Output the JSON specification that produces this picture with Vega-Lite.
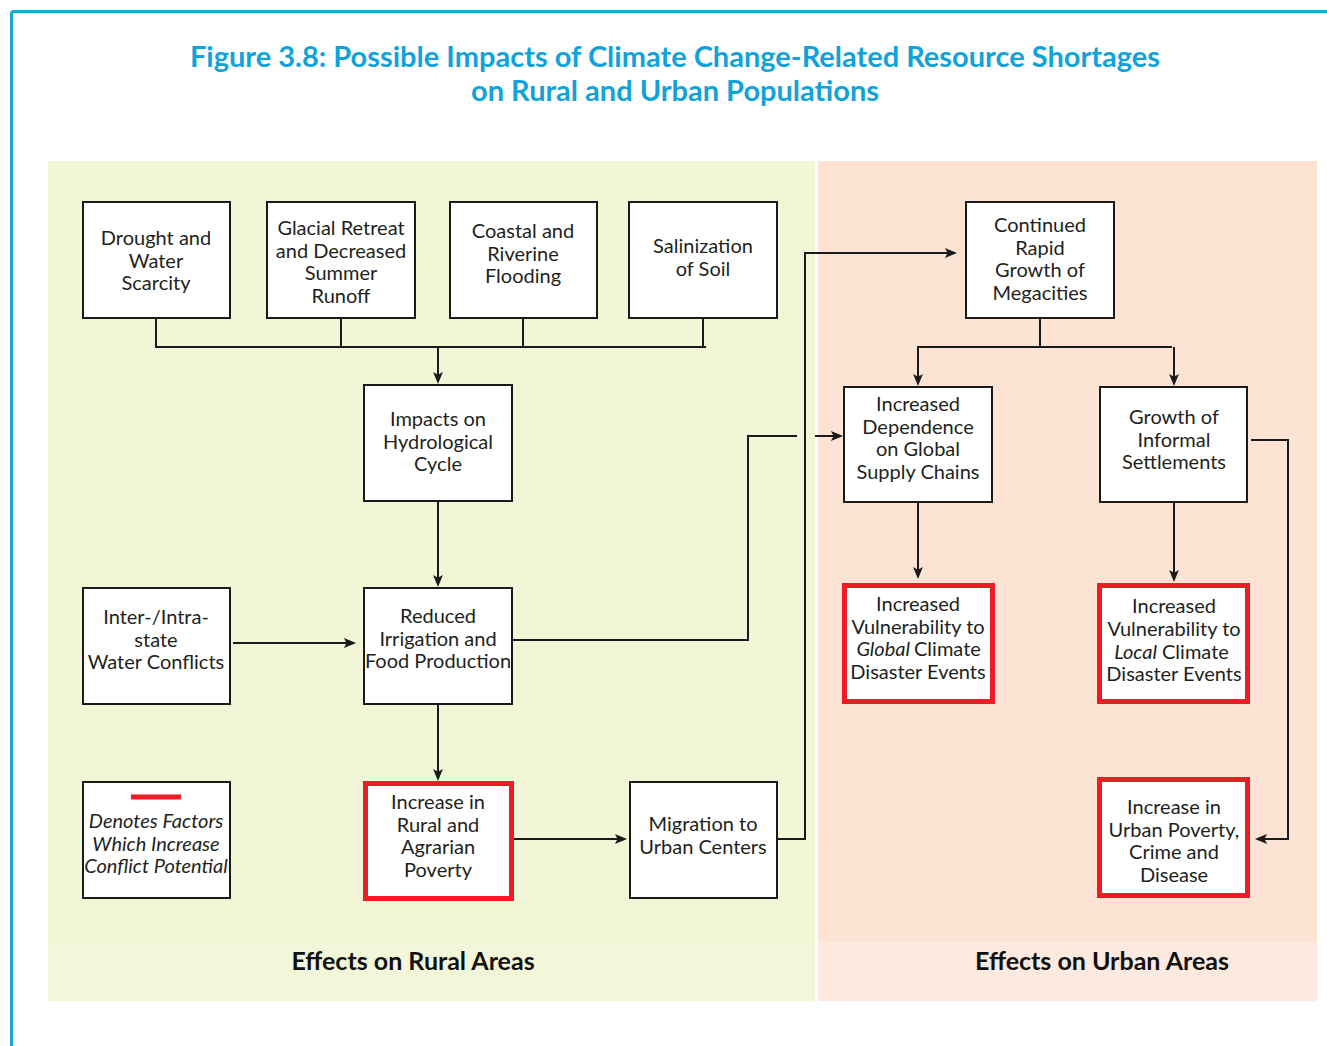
{
  "$schema": "https://vega.github.io/schema/vega-lite/v6.json",
  "width": 1327,
  "height": 1046,
  "padding": 0,
  "autosize": {"type": "none"},
  "background": "white",
  "config": {"view": {"stroke": null}, "text": {"font": "Lato", "color": "#231f20"}},
  "datasets": {
    "panels": [
      {"region": "rural", "x": 48, "x2": 815, "y": 161, "y2": 942},
      {"region": "ruralband", "x": 48, "x2": 815, "y": 942, "y2": 1001},
      {"region": "urban", "x": 818, "x2": 1317, "y": 161, "y2": 942},
      {"region": "urbanband", "x": 818, "x2": 1317, "y": 942, "y2": 1001}
    ],
    "border": [
      {"x": 11.5, "y": 11.5, "x2": 1327, "y2": 11.5},
      {"x": 11.5, "y": 11.5, "x2": 11.5, "y2": 1046}
    ],
    "boxes": [
      {"name": "Drought", "x": 83, "x2": 230, "y": 202, "y2": 318},
      {"name": "Glacial", "x": 267, "x2": 415, "y": 202, "y2": 318},
      {"name": "Coastal", "x": 450, "x2": 597, "y": 202, "y2": 318},
      {"name": "Salinization", "x": 629, "x2": 777, "y": 202, "y2": 318},
      {"name": "Impacts", "x": 364, "x2": 512, "y": 385, "y2": 501},
      {"name": "Inter", "x": 83, "x2": 230, "y": 588, "y2": 704},
      {"name": "Reduced", "x": 364, "x2": 512, "y": 588, "y2": 704},
      {"name": "Legend", "x": 83, "x2": 230, "y": 782, "y2": 898},
      {"name": "Migration", "x": 630, "x2": 777, "y": 782, "y2": 898},
      {"name": "Continued", "x": 966, "x2": 1114, "y": 202, "y2": 318},
      {"name": "Dependence", "x": 844, "x2": 992, "y": 387, "y2": 502},
      {"name": "Informal", "x": 1100, "x2": 1247, "y": 387, "y2": 502}
    ],
    "redboxes": [
      {"name": "Rural Poverty", "x": 365.5, "x2": 511.5, "y": 783.5, "y2": 898.5},
      {"name": "Global", "x": 844.5, "x2": 992.5, "y": 585.5, "y2": 701.5},
      {"name": "Local", "x": 1099.5, "x2": 1247.5, "y": 585.5, "y2": 701.5},
      {"name": "Urban Poverty", "x": 1099.5, "x2": 1247.5, "y": 779.5, "y2": 895.5}
    ],
    "lines": [
      {"x": 156, "y": 319, "x2": 156, "y2": 347},
      {"x": 341, "y": 319, "x2": 341, "y2": 347},
      {"x": 523, "y": 319, "x2": 523, "y2": 347},
      {"x": 703, "y": 319, "x2": 703, "y2": 347},
      {"x": 155, "y": 347, "x2": 706, "y2": 347},
      {"x": 438, "y": 347, "x2": 438, "y2": 378},
      {"x": 438, "y": 502, "x2": 438, "y2": 581},
      {"x": 233, "y": 643, "x2": 350, "y2": 643},
      {"x": 438, "y": 705, "x2": 438, "y2": 775},
      {"x": 514, "y": 839, "x2": 621, "y2": 839},
      {"x": 778, "y": 839, "x2": 805, "y2": 839},
      {"x": 805, "y": 840, "x2": 805, "y2": 252},
      {"x": 804, "y": 253, "x2": 951, "y2": 253},
      {"x": 512, "y": 640, "x2": 748, "y2": 640},
      {"x": 748, "y": 641, "x2": 748, "y2": 435},
      {"x": 747, "y": 436, "x2": 797, "y2": 436},
      {"x": 815, "y": 436, "x2": 837, "y2": 436},
      {"x": 1040, "y": 319, "x2": 1040, "y2": 347},
      {"x": 917, "y": 347, "x2": 1172, "y2": 347},
      {"x": 918, "y": 346, "x2": 918, "y2": 380},
      {"x": 1174, "y": 347, "x2": 1174, "y2": 380},
      {"x": 918, "y": 503, "x2": 918, "y2": 573},
      {"x": 1174, "y": 503, "x2": 1174, "y2": 576},
      {"x": 1251, "y": 440, "x2": 1289, "y2": 440},
      {"x": 1288, "y": 439, "x2": 1288, "y2": 840},
      {"x": 1289, "y": 839, "x2": 1261, "y2": 839}
    ],
    "arrows": [
      {"dir": "down", "x": 438, "y": 378},
      {"dir": "down", "x": 438, "y": 581},
      {"dir": "down", "x": 438, "y": 775},
      {"dir": "down", "x": 918, "y": 380},
      {"dir": "down", "x": 1174, "y": 380},
      {"dir": "down", "x": 918, "y": 573},
      {"dir": "down", "x": 1174, "y": 576},
      {"dir": "right", "x": 350, "y": 643},
      {"dir": "right", "x": 621, "y": 839},
      {"dir": "right", "x": 951, "y": 253},
      {"dir": "right", "x": 837, "y": 436},
      {"dir": "left", "x": 1261, "y": 839}
    ],
    "keybar": [
      {"x": 131, "x2": 181, "y": 797, "y2": 797}
    ],
    "boxtext": [
      {"t": "Drought and\nWater\nScarcity", "x": 156, "y": 239},
      {"t": "Glacial Retreat\nand Decreased\nSummer\nRunoff", "x": 341, "y": 229},
      {"t": "Coastal and\nRiverine\nFlooding", "x": 523, "y": 232},
      {"t": "Salinization\nof Soil", "x": 703, "y": 247},
      {"t": "Impacts on\nHydrological\nCycle", "x": 438, "y": 420},
      {"t": "Inter-/Intra-\nstate\nWater Conflicts", "x": 156, "y": 618},
      {"t": "Reduced\nIrrigation and\nFood Production", "x": 438, "y": 617},
      {"t": "Increase in\nRural and\nAgrarian\nPoverty", "x": 438, "y": 803},
      {"t": "Migration to\nUrban Centers", "x": 703, "y": 825},
      {"t": "Continued\nRapid\nGrowth of\nMegacities", "x": 1040, "y": 226},
      {"t": "Increased\nDependence\non Global\nSupply Chains", "x": 918, "y": 405},
      {"t": "Growth of\nInformal\nSettlements", "x": 1174, "y": 418},
      {"t": "Increased\nVulnerability to", "x": 918, "y": 605},
      {"t": "Disaster Events", "x": 918, "y": 673},
      {"t": "Increased\nVulnerability to", "x": 1174, "y": 607},
      {"t": "Disaster Events", "x": 1174, "y": 675},
      {"t": "Increase in\nUrban Poverty,\nCrime and\nDisease", "x": 1174, "y": 808}
    ],
    "lefttext": [
      {"t": "Climate", "x": 914, "y": 650},
      {"t": "Climate", "x": 1162, "y": 653}
    ],
    "italicright": [
      {"t": "Global", "x": 910, "y": 650},
      {"t": "Local", "x": 1157, "y": 653}
    ],
    "italictext": [
      {"t": "Denotes Factors\nWhich Increase\nConflict Potential", "x": 156, "y": 822}
    ],
    "title": [
      {"t": "Figure 3.8: Possible Impacts of Climate Change-Related Resource Shortages", "x": 675, "y": 58},
      {"t": "on Rural and Urban Populations", "x": 675, "y": 92}
    ],
    "footer": [
      {"t": "Effects on Rural Areas", "x": 413, "y": 962},
      {"t": "Effects on Urban Areas", "x": 1102, "y": 962}
    ]
  },
  "encoding": {
    "x": {"field": "x", "type": "quantitative", "scale": {"domain": [0, 1327], "nice": false, "zero": false}, "axis": null},
    "y": {"field": "y", "type": "quantitative", "scale": {"domain": [0, 1046], "nice": false, "zero": false, "reverse": true}, "axis": null}
  },
  "layer": [
    {
      "data": {"name": "panels"},
      "mark": {"type": "rect"},
      "encoding": {
        "x2": {"field": "x2"},
        "y2": {"field": "y2"},
        "color": {"field": "region", "type": "nominal", "legend": null,
          "scale": {"domain": ["rural", "ruralband", "urban", "urbanband"], "range": ["#f2f6d6", "#f3f7da", "#fce3d4", "#fde9dd"]}}
      }
    },
    {
      "data": {"name": "border"},
      "mark": {"type": "rule", "stroke": "#1aa8de", "strokeWidth": 3},
      "encoding": {"x2": {"field": "x2"}, "y2": {"field": "y2"}}
    },
    {
      "data": {"name": "lines"},
      "mark": {"type": "rule", "stroke": "#1a1a1a", "strokeWidth": 2},
      "encoding": {"x2": {"field": "x2"}, "y2": {"field": "y2"}}
    },
    {
      "data": {"name": "arrows"},
      "mark": {"type": "point", "filled": true, "fill": "#1a1a1a", "opacity": 1, "size": 150},
      "encoding": {
        "shape": {"field": "dir", "type": "nominal", "legend": null,
          "scale": {"domain": ["down", "right", "left"],
            "range": ["M0,1L-0.8,-1L0,-0.55L0.8,-1Z", "M1,0L-1,-0.8L-0.55,0L-1,0.8Z", "M-1,0L1,-0.8L0.55,0L1,0.8Z"]}}
      }
    },
    {
      "data": {"name": "boxes"},
      "mark": {"type": "rect", "fill": "white", "stroke": "#1a1a1a", "strokeWidth": 2},
      "encoding": {"x2": {"field": "x2"}, "y2": {"field": "y2"}}
    },
    {
      "data": {"name": "redboxes"},
      "mark": {"type": "rect", "fill": "white", "stroke": "#ed1c24", "strokeWidth": 5},
      "encoding": {"x2": {"field": "x2"}, "y2": {"field": "y2"}}
    },
    {
      "data": {"name": "keybar"},
      "mark": {"type": "rule", "stroke": "#ed1c24", "strokeWidth": 5},
      "encoding": {"x2": {"field": "x2"}, "y2": {"field": "y2"}}
    },
    {
      "data": {"name": "boxtext"},
      "mark": {"type": "text", "fontSize": 20, "lineHeight": 22.7, "lineBreak": "\n", "align": "center", "baseline": "middle"},
      "encoding": {"text": {"field": "t"}}
    },
    {
      "data": {"name": "lefttext"},
      "mark": {"type": "text", "fontSize": 20, "align": "left", "baseline": "middle"},
      "encoding": {"text": {"field": "t"}}
    },
    {
      "data": {"name": "italicright"},
      "mark": {"type": "text", "fontSize": 20, "fontStyle": "italic", "align": "right", "baseline": "middle"},
      "encoding": {"text": {"field": "t"}}
    },
    {
      "data": {"name": "italictext"},
      "mark": {"type": "text", "fontSize": 20, "fontStyle": "italic", "lineHeight": 22.7, "lineBreak": "\n", "align": "center", "baseline": "middle"},
      "encoding": {"text": {"field": "t"}}
    },
    {
      "data": {"name": "title"},
      "mark": {"type": "text", "fontSize": 29, "fontWeight": "bold", "color": "#0fa3da", "align": "center", "baseline": "middle"},
      "encoding": {"text": {"field": "t"}}
    },
    {
      "data": {"name": "footer"},
      "mark": {"type": "text", "fontSize": 25, "fontWeight": "bold", "color": "#111111", "align": "center", "baseline": "middle"},
      "encoding": {"text": {"field": "t"}}
    }
  ]
}
